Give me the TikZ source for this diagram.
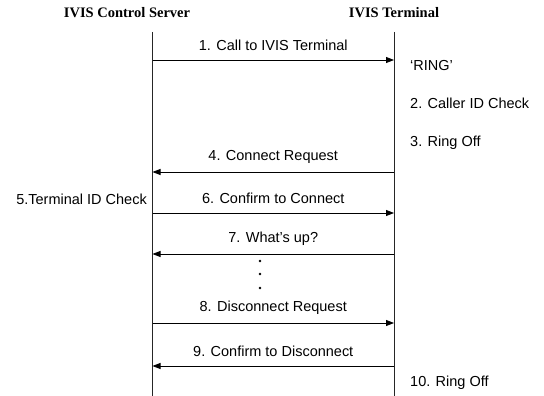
\documentclass[tikz,border=0pt]{standalone}
\usepackage{fontspec}
\setmainfont{Liberation Sans}
\newfontfamily\headfont{Liberation Serif}
\usetikzlibrary{arrows.meta,positioning,calc}
\tikzset{
  lifeline/.style={line width=0.8pt, black!85},
  msg/.style={-{Triangle[length=8pt,width=6pt]}, line width=0.8pt},
  msglabel/.style={font=\fontsize{14.5}{16}\selectfont, inner sep=1pt},
  sidenote/.style={msglabel, anchor=west},
  header/.style={font=\headfont\bfseries\fontsize{14.5}{16}\selectfont}
}

\begin{document}
\begin{tikzpicture}[x=1pt,y=-1pt]
  \useasboundingbox (0,0) rectangle (544,396);
  % participants
  \node[header] (srv) at (127,13) {IVIS Control Server};
  \node[header] (term) at (394,13) {IVIS Terminal};
  \coordinate (srvtop) at (152.5,32);
  \coordinate (srvbot) at (152.5,396);
  \coordinate (termtop) at (394,32);
  \coordinate (termbot) at (394,396);
  \draw[lifeline] (srvtop) -- (srvbot);
  \draw[lifeline] (termtop) -- (termbot);
  % message ends on both lifelines
  \foreach \y/\nm in {60/a, 172/b, 213/c, 254/d, 323/e, 366/f} {
    \coordinate (s\nm) at (152.5,\y);
    \coordinate (t\nm) at (394,\y);
  }
  % messages
  \draw[msg] (sa) -- node[msglabel, yshift=15pt] {1. Call to IVIS Terminal} (ta);
  \draw[msg] (tb) -- node[msglabel, yshift=15pt] {4. Connect Request} (sb);
  \draw[msg] (sc) -- node[msglabel, yshift=15pt] {6. Confirm to Connect} (tc);
  \draw[msg] (td) -- node[msglabel, yshift=15pt] {7. What's up?} (sd);
  \draw[msg] (se) -- node[msglabel, yshift=15pt] {8. Disconnect Request} (te);
  \draw[msg] (tf) -- node[msglabel, yshift=15pt] {9. Confirm to Disconnect} (sf);
  % local steps
  \node[sidenote] (ring) at (409,66) {‘RING’};
  \node[sidenote] (callerid) at (409,103) {2. Caller ID Check};
  \node[sidenote] (ringoff) at (409,143) {3. Ring Off};
  \node[sidenote] (ringoff2) at (409,383) {10. Ring Off};
  \node[msglabel, anchor=east] (termid) at (148,199) {5.Terminal ID Check};
  % more messages
  \foreach \y in {261,274,288}
    \fill (260,\y) circle (1.3pt);
\end{tikzpicture}
\end{document}
